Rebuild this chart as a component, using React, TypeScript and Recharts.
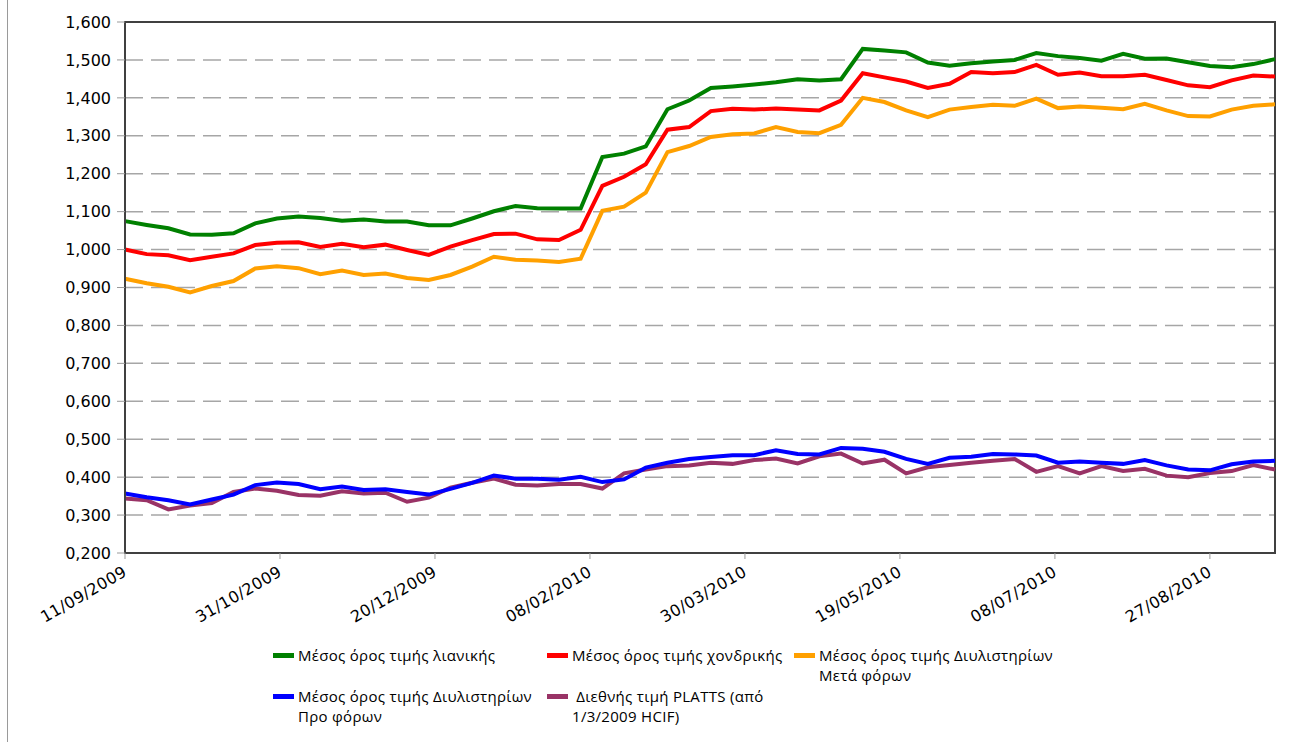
import React from "react"
import { LineChart, Line, XAxis, YAxis, CartesianGrid, Legend, ReferenceArea } from "recharts"

// weekly observation dates
const dates = [
  "2009-09-11", "2009-09-18", "2009-09-25", "2009-10-02", "2009-10-09", "2009-10-16", "2009-10-23",
  "2009-10-30", "2009-11-06", "2009-11-13", "2009-11-20", "2009-11-27", "2009-12-04", "2009-12-11",
  "2009-12-18", "2009-12-25", "2010-01-01", "2010-01-08", "2010-01-15", "2010-01-22", "2010-01-29",
  "2010-02-05", "2010-02-12", "2010-02-19", "2010-02-26", "2010-03-05", "2010-03-12", "2010-03-19",
  "2010-03-26", "2010-04-02", "2010-04-09", "2010-04-16", "2010-04-23", "2010-04-30", "2010-05-07",
  "2010-05-14", "2010-05-21", "2010-05-28", "2010-06-04", "2010-06-11", "2010-06-18", "2010-06-25",
  "2010-07-02", "2010-07-09", "2010-07-16", "2010-07-23", "2010-07-30", "2010-08-06", "2010-08-13",
  "2010-08-20", "2010-08-27", "2010-09-03", "2010-09-10", "2010-09-17",
]

const tickDates = [
  "2009-09-11", "2009-10-31", "2009-12-20", "2010-02-08",
  "2010-03-30", "2010-05-19", "2010-07-08", "2010-08-27",
]

const yTicks = [0.2, 0.3, 0.4, 0.5, 0.6, 0.7, 0.8, 0.9, 1.0, 1.1, 1.2, 1.3, 1.4, 1.5, 1.6]

const retail = [
  1.075, 1.065, 1.056, 1.040, 1.039, 1.043, 1.069, 1.082, 1.087, 1.083, 1.076, 1.079, 1.074, 1.074,
  1.064, 1.064, 1.082, 1.101, 1.115, 1.109, 1.108, 1.108, 1.244, 1.253, 1.272, 1.370, 1.393,
  1.426, 1.430, 1.435, 1.441, 1.449, 1.446, 1.449, 1.529, 1.525, 1.520, 1.493, 1.485, 1.491,
  1.496, 1.500, 1.518, 1.510, 1.505, 1.498, 1.516, 1.503, 1.504, 1.494, 1.484, 1.481, 1.489, 1.502,
]

const wholesale = [
  1.000, 0.988, 0.985, 0.972, 0.981, 0.990, 1.012, 1.018, 1.019, 1.007, 1.015, 1.006, 1.013, 0.999,
  0.986, 1.008, 1.025, 1.041, 1.042, 1.027, 1.025, 1.052, 1.168, 1.192, 1.225, 1.316, 1.323,
  1.365, 1.371, 1.369, 1.372, 1.369, 1.367, 1.393, 1.465, 1.454, 1.443, 1.426, 1.437, 1.468,
  1.465, 1.468, 1.487, 1.461, 1.467, 1.457, 1.457, 1.461, 1.447, 1.433, 1.428, 1.446, 1.459, 1.456,
]

const refineryAfterTax = [
  0.923, 0.911, 0.902, 0.887, 0.904, 0.917, 0.950, 0.956, 0.951, 0.935, 0.945, 0.933, 0.937, 0.925,
  0.920, 0.933, 0.955, 0.981, 0.973, 0.971, 0.967, 0.976, 1.102, 1.113, 1.150, 1.257, 1.273,
  1.297, 1.304, 1.306, 1.323, 1.310, 1.307, 1.329, 1.400, 1.389, 1.367, 1.349, 1.369, 1.376,
  1.382, 1.379, 1.398, 1.373, 1.377, 1.374, 1.370, 1.384, 1.367, 1.352, 1.351, 1.369, 1.379, 1.383,
]

const refineryBeforeTax = [
  0.357, 0.347, 0.339, 0.328, 0.341, 0.354, 0.379, 0.386, 0.382, 0.368, 0.375, 0.366, 0.368, 0.361,
  0.354, 0.369, 0.385, 0.404, 0.396, 0.396, 0.393, 0.401, 0.387, 0.394, 0.425, 0.438, 0.448,
  0.453, 0.458, 0.458, 0.471, 0.461, 0.460, 0.477, 0.475, 0.467, 0.448, 0.435, 0.451, 0.454,
  0.461, 0.460, 0.457, 0.438, 0.441, 0.438, 0.435, 0.445, 0.431, 0.420, 0.418, 0.434, 0.441, 0.443,
]

const platts = [
  0.344, 0.339, 0.315, 0.325, 0.332, 0.361, 0.370, 0.364, 0.353, 0.351, 0.363, 0.357, 0.359, 0.335,
  0.346, 0.372, 0.385, 0.396, 0.380, 0.378, 0.382, 0.382, 0.370, 0.410, 0.420, 0.429, 0.431,
  0.438, 0.435, 0.445, 0.449, 0.436, 0.455, 0.462, 0.436, 0.446, 0.410, 0.426, 0.432, 0.438,
  0.443, 0.448, 0.414, 0.429, 0.410, 0.429, 0.416, 0.422, 0.404, 0.400, 0.411, 0.416, 0.432, 0.420,
]

const series = [
  { key: "retail", name: "Μέσος όρος τιμής λιανικής", color: "#008000", left: 273, top: 0 },
  { key: "wholesale", name: "Μέσος όρος τιμής χονδρικής", color: "#ff0000", left: 547, top: 0 },
  { key: "afterTax", name: "Μέσος όρος τιμής Διυλιστηρίων\nΜετά φόρων", color: "#ffa000", left: 794, top: 0 },
  { key: "beforeTax", name: "Μέσος όρος τιμής Διυλιστηρίων\nΠρο φόρων", color: "#0000ff", left: 273, top: 41 },
  { key: "platts", name: " Διεθνής τιμή PLATTS (από\n1/3/2009 HCIF)", color: "#993366", left: 547, top: 41 },
]

const data = dates.map((d, i) => ({
  t: Date.parse(d),
  retail: retail[i],
  wholesale: wholesale[i],
  afterTax: refineryAfterTax[i],
  beforeTax: refineryBeforeTax[i],
  platts: platts[i],
}))

const xStart = Date.parse(dates[0])
const xEnd = Date.parse(dates[dates.length - 1])
const xTicks = tickDates.map((d) => Date.parse(d))

const pad = (n: number) => String(n).padStart(2, "0")
const fmtDate = (ms: number) => {
  const d = new Date(ms)
  return `${pad(d.getUTCDate())}/${pad(d.getUTCMonth() + 1)}/${d.getUTCFullYear()}`
}
const fmtValue = (v: number) => v.toFixed(3).replace(".", ",")

const axisFont = "'DejaVu Sans', Verdana, sans-serif"

const XTick = ({ x, y, payload }: any) => {
  const ax = x + 3
  const ay = y + 14
  return (
    <text x={ax} y={ay} transform={`rotate(-30, ${ax}, ${ay})`} textAnchor="end"
      fontSize={16} letterSpacing={0.4} fontFamily={axisFont} fill="#000">
      {fmtDate(payload.value)}
    </text>
  )
}

const LegendBox = () => (
  <div style={{ position: "relative", width: 1294, height: 90, fontFamily: "'Open Sans', sans-serif", fontSize: 15, letterSpacing: 0.3, color: "#000" }}>
    {series.map((s) => (
      <div key={s.key} style={{ position: "absolute", left: s.left, top: s.top + 5, display: "flex", alignItems: "flex-start" }}>
        <div style={{ width: 21, height: 5, background: s.color, marginTop: 8, marginRight: 4 }} />
        <div style={{ whiteSpace: "pre", lineHeight: "20px" }}>{s.name}</div>
      </div>
    ))}
  </div>
)

export default function App() {
  const drawOrder = ["retail", "wholesale", "afterTax", "platts", "beforeTax"]
  return (
    <div style={{ position: "absolute", left: 0, top: 0, width: 1294, height: 742, background: "#fff" }}>
      <div style={{ position: "absolute", left: 7, top: 0, width: 1, height: 742, background: "#9a9a9a" }} />
      <LineChart width={1294} height={742} data={data} margin={{ top: 22, right: 19, left: 0, bottom: 129 }}>
        <CartesianGrid vertical={false} stroke="#a6a6a6" strokeWidth={1.5} strokeDasharray="18 8" />
        <XAxis dataKey="t" type="number" domain={[xStart, xEnd]} ticks={xTicks} height={60}
          tick={<XTick />} tickSize={6} tickMargin={2} interval={0}
          axisLine={{ stroke: "#404040", strokeWidth: 2 }} tickLine={{ stroke: "#999" }} />
        <YAxis type="number" domain={[0.2, 1.6]} ticks={yTicks} width={125} interval={0}
          tickFormatter={fmtValue} tickSize={8} tickMargin={6}
          tick={{ fontSize: 16, fontFamily: axisFont, fill: "#000" }}
          axisLine={{ stroke: "#404040", strokeWidth: 2 }} tickLine={{ stroke: "#999" }} />
        <ReferenceArea x1={xStart} x2={xEnd} y1={0.2} y2={1.6} fill="none" stroke="#404040" strokeWidth={2} />
        {drawOrder.map((k) => {
          const s = series.find((v) => v.key === k)!
          return (
            <Line key={k} type="linear" dataKey={k} name={s.name} stroke={s.color} strokeWidth={4}
              dot={false} activeDot={false} isAnimationActive={false} />
          )
        })}
        <Legend layout="horizontal" verticalAlign="middle" align="center"
          wrapperStyle={{ top: 640, left: 0, width: 1294 }} content={() => <LegendBox />} />
      </LineChart>
    </div>
  )
}
